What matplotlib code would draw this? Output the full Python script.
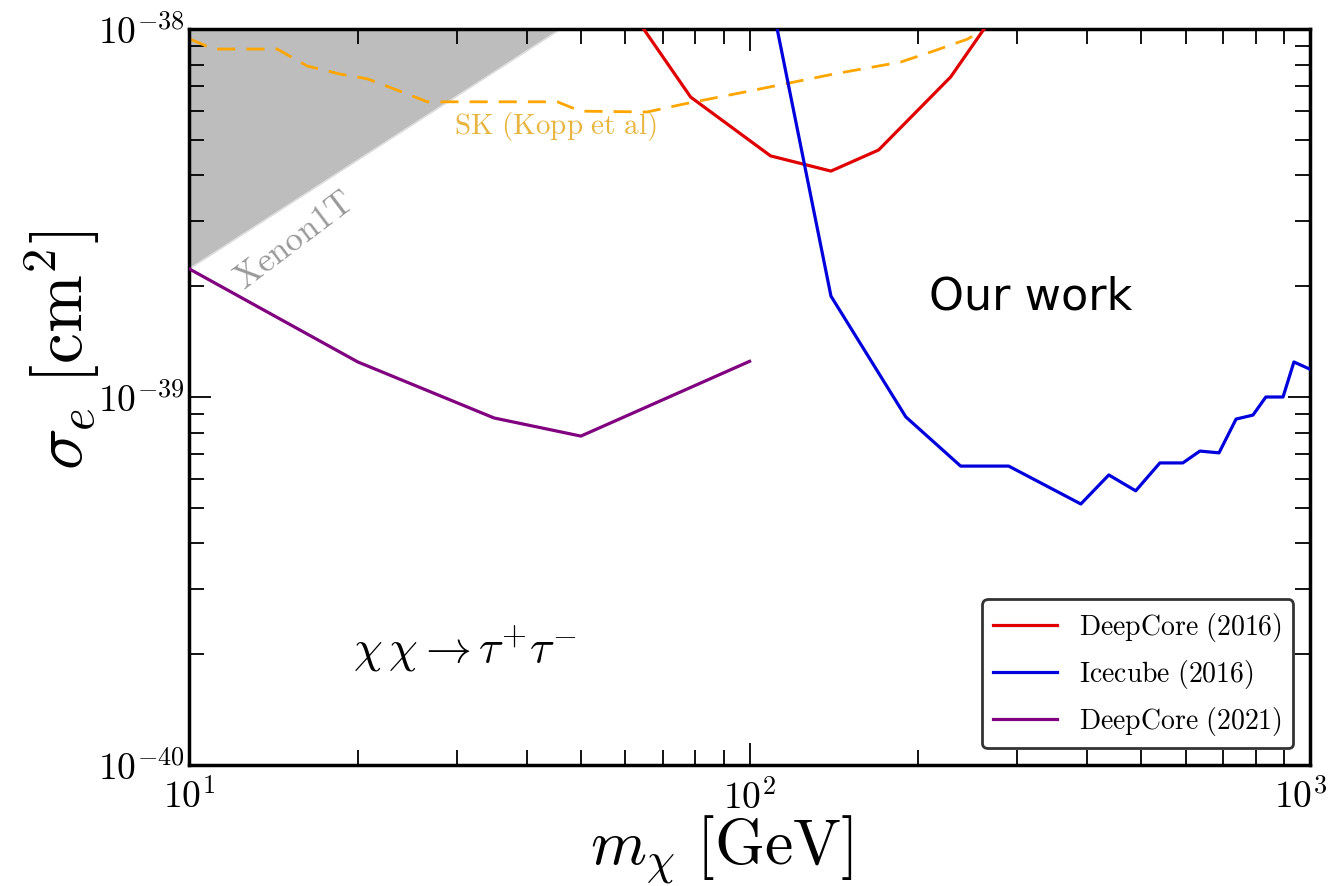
import numpy as np
import matplotlib
matplotlib.use('Agg')
import matplotlib.pyplot as plt
from matplotlib.ticker import FuncFormatter, NullFormatter, LogLocator
from matplotlib.transforms import ScaledTranslation

plt.rcParams['mathtext.fontset'] = 'cm'

# DeepCore (2016)
dc16_m = [64.7, 78.5, 109, 139.7, 169.9, 228.5, 262]
dc16_s = [1.0e-38, 6.53e-39, 4.52e-39, 4.11e-39, 4.69e-39, 7.41e-39, 1.0e-38]

# Icecube (2016)
ic16_m = [112, 139.7, 190, 238, 290, 390, 437.5, 488.6, 539.6, 593, 636, 688,
          738, 791, 834, 895, 936, 1000]
ic16_s = [1.0e-38, 1.88e-39, 8.83e-40, 6.49e-40, 6.49e-40, 5.12e-40, 6.14e-40,
          5.56e-40, 6.62e-40, 6.62e-40, 7.13e-40, 7.05e-40, 8.71e-40, 8.93e-40,
          1.0e-39, 1.0e-39, 1.245e-39, 1.19e-39]

# DeepCore (2021)
dc21_m = [10, 20, 35, 50, 100]
dc21_s = [2.23e-39, 1.245e-39, 8.77e-40, 7.83e-40, 1.25e-39]

# SK (Kopp et al)
sk_m = [10.04, 11.04, 14.36, 16.25, 18.6, 20.8, 24.5, 26.6, 45.4, 49.9, 65.7,
        76.2, 100.4, 141, 186, 213, 245, 262]
sk_s = [9.39e-39, 8.82e-39, 8.82e-39, 7.93e-39, 7.54e-39, 7.32e-39, 6.66e-39,
        6.34e-39, 6.34e-39, 5.98e-39, 5.95e-39, 6.25e-39, 6.79e-39, 7.54e-39,
        8.13e-39, 8.71e-39, 9.39e-39, 1.0e-38]

# Xenon1T excluded region (lower edge)
xe_m = [10, 46]
xe_s = [2.23e-39, 1.0e-38]

fig = plt.figure(figsize=(13.32, 8.87), dpi=100)
ax = fig.add_axes([0.142, 0.1364, 0.8415, 0.8298])

ax.fill_between(xe_m, xe_s, 1e-38, color='#bdbdbd', lw=0, zorder=1)
ax.plot(xe_m, xe_s, color='#e0e0e0', lw=1, zorder=1)

ax.plot(sk_m, sk_s, color='orange', ls=(0, (6.5, 4)), lw=2, zorder=2)
ax.plot(dc16_m, dc16_s, color='#e00000', lw=2.3, label=r'$\mathrm{DeepCore\ (2016)}$', zorder=3)
ax.plot(ic16_m, ic16_s, color='#0000dd', lw=2.3, label=r'$\mathrm{Icecube\ (2016)}$', zorder=3)
ax.plot(dc21_m, dc21_s, color='purple', lw=2.3, label=r'$\mathrm{DeepCore\ (2021)}$', zorder=3)

ax.set_xscale('log')
ax.set_yscale('log')
ax.set_xlim(10, 1000)
ax.set_ylim(1e-40, 1e-38)

ax.text(15.4, 2.69e-39, r'$\mathrm{Xenon1T}$', color='#9a9a9a', fontsize=25,
        rotation=37, ha='center', va='center')
ax.text(45.0, 5.45e-39, r'$\mathrm{SK\ (Kopp\ et\ al)}$', color='#e8b540', fontsize=21,
        ha='center', va='center')
ax.text(317.5, 1.88e-39, 'Our work', color='black', fontsize=32,
        ha='center', va='center')
ax.text(31.1, 2.07e-40, r'$\chi\,\chi \rightarrow \tau^{+}\tau^{-}$', fontsize=33,
        ha='center', va='center')

fmt = FuncFormatter(lambda v, p: r'$10^{%d}$' % int(round(np.log10(v))))
ax.xaxis.set_major_formatter(fmt)
ax.yaxis.set_major_formatter(fmt)
ax.xaxis.set_minor_formatter(NullFormatter())
ax.yaxis.set_minor_formatter(NullFormatter())
ax.yaxis.set_major_locator(LogLocator(base=10, numticks=5))

ax.tick_params(which='both', direction='in', top=True, right=True, labelsize=27, width=1.3)
ax.tick_params(which='major', length=16)
ax.tick_params(which='minor', length=11)
ax.tick_params(axis='x', which='major', pad=10)
for s in ax.spines.values():
    s.set_linewidth(2.5)

ax.set_xlabel(r'$m_\chi\ [\mathrm{GeV}]$', fontsize=46)
ax.set_ylabel(r'$\sigma_e\ [\mathrm{cm}^2]$', fontsize=50)
ax.xaxis.set_label_coords(0.475, -0.134, transform=ax.transAxes)
ax.xaxis.label.set_va('baseline')
ax.yaxis.set_label_coords(-0.078, 0.565, transform=ax.transAxes)

leg = ax.legend(loc='lower right', fontsize=20, framealpha=1, handlelength=2.3,
                borderaxespad=0.6, fancybox=True)
leg.get_frame().set_edgecolor('#333333')
leg.get_frame().set_linewidth(2)

# nudge the 10^3 label left so it stays inside the figure
fig.canvas.draw()
for t in ax.xaxis.get_major_ticks():
    if np.isclose(t.get_loc(), 1000):
        t.label1.set_transform(t.label1.get_transform() +
                               ScaledTranslation(-0.09, 0, fig.dpi_scale_trans))

plt.savefig('out.png', dpi=100)
